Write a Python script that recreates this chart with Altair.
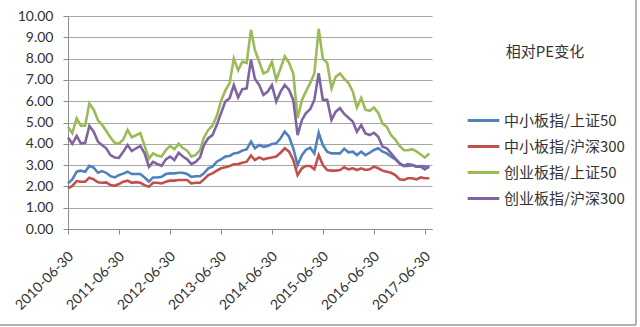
import calendar
import altair as alt
import pandas as pd

series_names = ["中小板指/上证50", "中小板指/沪深300", "创业板指/上证50", "创业板指/沪深300"]
colors = ["#4F81BD", "#C0504D", "#9BBB59", "#8064A2"]

zxb_sz50 = [2.14, 2.33, 2.69, 2.74, 2.69, 2.96, 2.88, 2.64, 2.72, 2.64,
            2.48, 2.42, 2.53, 2.60, 2.69, 2.58, 2.58, 2.58, 2.42, 2.22,
            2.42, 2.42, 2.45, 2.58, 2.61, 2.61, 2.64, 2.64, 2.58, 2.45,
            2.48, 2.48, 2.61, 2.85, 2.93, 3.16, 3.27, 3.40, 3.43, 3.55,
            3.58, 3.68, 3.74, 4.10, 3.79, 3.94, 3.86, 3.90, 3.99, 4.02,
            4.26, 4.57, 4.33, 3.79, 3.00, 3.47, 3.71, 3.82, 3.55, 4.52,
            3.94, 3.63, 3.55, 3.55, 3.55, 3.77, 3.60, 3.63, 3.47, 3.63,
            3.47, 3.58, 3.71, 3.79, 3.63, 3.55, 3.40, 3.27, 3.08, 2.96,
            2.96, 3.00, 2.93, 2.96, 2.95, 2.88]

zxb_hs300 = [1.91, 2.02, 2.25, 2.22, 2.22, 2.41, 2.33, 2.19, 2.17, 2.19,
             2.06, 2.03, 2.11, 2.22, 2.27, 2.17, 2.20, 2.17, 2.06, 1.98,
             2.17, 2.17, 2.14, 2.22, 2.27, 2.27, 2.30, 2.30, 2.30, 2.14,
             2.17, 2.17, 2.33, 2.53, 2.61, 2.74, 2.85, 2.90, 2.96, 3.04,
             3.05, 3.11, 3.16, 3.45, 3.24, 3.36, 3.27, 3.32, 3.36, 3.40,
             3.58, 3.79, 3.63, 3.24, 2.53, 2.85, 2.96, 2.96, 2.80, 3.47,
             3.00, 2.77, 2.74, 2.74, 2.77, 2.90, 2.80, 2.85, 2.77, 2.85,
             2.77, 2.80, 2.93, 2.85, 2.74, 2.69, 2.64, 2.53, 2.33, 2.30,
             2.38, 2.38, 2.33, 2.42, 2.38, 2.38]

cyb_sz50 = [4.80, 4.50, 5.20, 4.85, 4.85, 5.90, 5.60, 5.10, 4.90, 4.60,
            4.30, 4.05, 4.00, 4.20, 4.65, 4.30, 4.40, 4.50, 3.90, 3.30,
            3.55, 3.45, 3.40, 3.70, 3.90, 3.75, 4.00, 3.80, 3.68, 3.40,
            3.48, 3.70, 4.30, 4.65, 4.85, 5.30, 6.00, 6.50, 6.85, 8.00,
            7.45, 7.85, 7.80, 9.35, 8.40, 7.85, 7.30, 7.40, 7.85, 7.00,
            7.55, 8.10, 7.80, 7.30, 5.20, 6.05, 6.45, 6.85, 7.30, 9.40,
            8.00, 7.80, 6.60, 7.15, 7.30, 7.05, 6.85, 6.45, 5.70, 6.15,
            5.60, 5.55, 5.70, 5.45, 4.95, 4.80, 4.40, 4.20, 3.90, 3.70,
            3.70, 3.75, 3.65, 3.50, 3.35, 3.55]

cyb_hs300 = [4.30, 4.00, 4.37, 4.02, 4.05, 4.84, 4.57, 4.10, 3.94, 3.79,
             3.47, 3.36, 3.34, 3.63, 3.94, 3.66, 3.79, 3.90, 3.55, 2.92,
             3.15, 3.05, 2.96, 3.27, 3.40, 3.24, 3.58, 3.40, 3.27, 3.05,
             3.15, 3.36, 3.94, 4.26, 4.41, 4.88, 5.43, 5.98, 6.14, 6.76,
             6.18, 6.56, 6.60, 7.95, 7.05, 6.76, 6.29, 6.45, 6.76, 5.98,
             6.45, 6.76, 6.53, 6.06, 4.41, 5.12, 5.43, 5.62, 6.06, 7.31,
             6.06, 6.06, 5.12, 5.51, 5.67, 5.40, 5.22, 5.04, 4.57, 4.88,
             4.49, 4.41, 4.52, 4.33, 3.86, 3.79, 3.55, 3.32, 3.08, 2.96,
             3.05, 3.00, 2.93, 2.93, 2.80, 2.95]

all_series = [zxb_sz50, zxb_hs300, cyb_sz50, cyb_hs300]

# month-end dates starting 2010-06-30
dates = []
yy, mm = 2010, 6
for _ in range(len(zxb_sz50)):
    last = calendar.monthrange(yy, mm)[1]
    dates.append(f"{yy:04d}-{mm:02d}-{last:02d}")
    mm += 1
    if mm > 12:
        mm = 1
        yy += 1

tick_years = list(range(2010, 2018))
y_ticks = list(range(0, 11))

rows = []
for name, vals in zip(series_names, all_series):
    for d, v in zip(dates, vals):
        rows.append({"date": d, "series": name, "value": v})
df = pd.DataFrame(rows)

tick_dates = [alt.DateTime(year=t, month=6, date=30, utc=True) for t in tick_years]
x_domain = [alt.DateTime(year=2010, month=6, date=30, utc=True),
            alt.DateTime(year=2017, month=8, date=20, utc=True)]

num_font = "Lato"
cjk_font = "Noto Sans CJK SC"

lines = alt.Chart(df).mark_line(strokeWidth=2.6).encode(
    x=alt.X("date:T", title=None,
            scale=alt.Scale(type="utc", domain=x_domain),
            axis=alt.Axis(values=tick_dates, format="%Y-%m-%d", labelAngle=-45,
                          labelAlign="right", labelBaseline="middle",
                          labelFont=num_font, labelFontSize=14, labelColor="#333333",
                          labelPadding=20, labelOffset=3, tickSize=5,
                          tickColor="#8c8c8c", domainColor="#8c8c8c", grid=False,
                          labelOverlap=False, labelBound=False)),
    y=alt.Y("value:Q", title=None,
            scale=alt.Scale(domain=[0, 10], nice=False),
            axis=alt.Axis(values=y_ticks, format=".2f", labelFont=num_font,
                          labelFontSize=14, labelColor="#333333", labelPadding=10,
                          tickSize=5, tickColor="#8c8c8c", domainColor="#8c8c8c",
                          gridColor="#a6a6a6", gridWidth=1)),
    color=alt.Color("series:N", sort=series_names,
                    scale=alt.Scale(domain=series_names, range=colors),
                    legend=alt.Legend(title="相对PE变化", orient="none",
                                      legendX=398, legendY=29,
                                      titleFont=cjk_font, titleFontSize=15,
                                      titleFontWeight="normal", titleColor="#333333",
                                      titleAnchor="middle", titleAlign="center",
                                      titlePadding=43,
                                      labelFont=cjk_font, labelFontSize=15,
                                      labelColor="#333333", labelOffset=3,
                                      symbolType="stroke", symbolSize=1000,
                                      symbolStrokeWidth=3, rowPadding=-2)),
)

border_df = pd.DataFrame({"k": [0]})
right_border = alt.Chart(border_df).mark_rule(color="#999999", strokeWidth=1.5).encode(
    x=alt.value(568), y=alt.value(-16), y2=alt.value(309))
bottom_border = alt.Chart(border_df).mark_rule(color="#999999", strokeWidth=1.5).encode(
    x=alt.value(-68), x2=alt.value(568), y=alt.value(309))

chart = alt.layer(lines, right_border, bottom_border).properties(
    width=364, height=213,
    autosize=alt.AutoSizeParams(type="none"),
    padding={"left": 68, "top": 16, "right": 208, "bottom": 98},
    background="white",
).configure_view(stroke=None)

chart.save("out.html", embed_options={"renderer": "svg", "actions": False})
